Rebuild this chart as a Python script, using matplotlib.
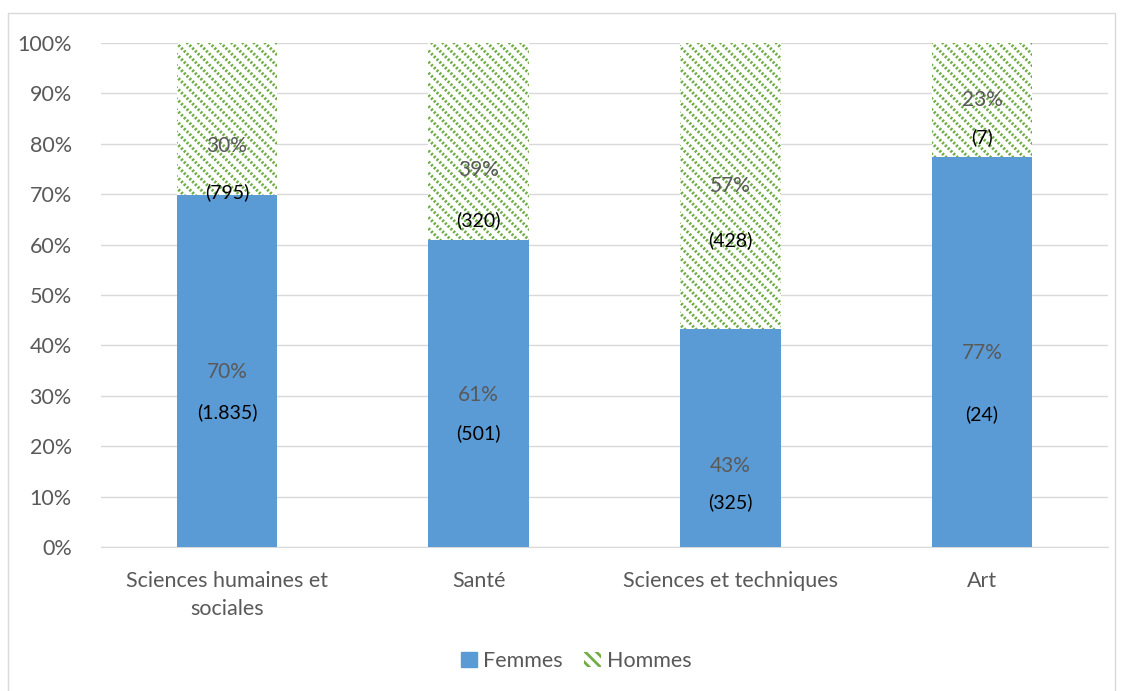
import matplotlib
matplotlib.use("Agg")
import matplotlib.pyplot as plt
from matplotlib.patches import Rectangle, Patch
from matplotlib.ticker import FuncFormatter

categories = ["Sciences humaines et\nsociales", "Santé", "Sciences et techniques", "Art"]
femmes_pct = [69.8, 61.0, 43.2, 77.4]
hommes_pct = [30.2, 39.0, 56.8, 22.6]
femmes_pct_labels = ["70%", "61%", "43%", "77%"]
hommes_pct_labels = ["30%", "39%", "57%", "23%"]
femmes_counts = ["(1.835)", "(501)", "(325)", "(24)"]
hommes_counts = ["(795)", "(320)", "(428)", "(7)"]

# label positions (data units)
f_pct_y = [34.7, 30.2, 16.1, 38.5]
f_cnt_y = [26.8, 22.6, 8.9, 26.4]
h_pct_y = [79.6, 74.8, 71.6, 88.7]
h_cnt_y = [70.4, 64.9, 60.9, 81.3]

plt.rcParams['font.family'] = ['Lato', 'DejaVu Sans']
BLUE = '#5B9BD5'
GREEN = '#70AD47'
GRAY = '#595959'
FS = 15.5

fig = plt.figure(figsize=(11.23, 6.91), dpi=100)
fig.patches.append(Rectangle((8/1123, -10/691), 1107/1123, 688/691, transform=fig.transFigure,
                             fill=False, edgecolor='#D9D9D9', linewidth=1))
ax = fig.add_axes([101/1123, 1 - 547/691, 1007/1123, 504/691])

x = list(range(len(categories)))
w = 0.4
ax.bar(x, femmes_pct, width=w, color=BLUE, zorder=3)
plt.rcParams['hatch.linewidth'] = 2.2
ax.bar(x, hommes_pct, width=w, bottom=femmes_pct, facecolor='white', edgecolor=GREEN,
       linewidth=0, hatch='\\\\\\', zorder=3)
plt.rcParams['hatch.linewidth'] = 1.3
ax.bar(x, hommes_pct, width=w, bottom=femmes_pct, facecolor='none', edgecolor='white',
       linewidth=0, hatch='//////', zorder=4)

for i in x:
    ax.text(i, f_pct_y[i], femmes_pct_labels[i], ha='center', va='center', fontsize=15, color=GRAY, zorder=5)
    ax.text(i, f_cnt_y[i], femmes_counts[i], ha='center', va='center', fontsize=14, color='black', zorder=5)
    ax.text(i, h_pct_y[i], hommes_pct_labels[i], ha='center', va='center', fontsize=15, color=GRAY, zorder=5)
    ax.text(i, h_cnt_y[i], hommes_counts[i], ha='center', va='center', fontsize=14, color='black', zorder=5)

ax.set_xlim(-0.5, 3.5)
ax.set_ylim(0, 100)
ax.set_yticks(range(0, 101, 10))
ax.yaxis.set_major_formatter(FuncFormatter(lambda v, p: f"{int(v)}%"))
ax.set_xticks(x)
ax.set_xticklabels(categories, fontsize=FS, color=GRAY, linespacing=1.5)
ax.tick_params(axis='y', labelsize=FS, labelcolor=GRAY, length=0, pad=21)
ax.tick_params(axis='x', length=0, pad=17)
ax.grid(axis='y', color='#D9D9D9', linewidth=1, zorder=0)
for s in ['top', 'right', 'left']:
    ax.spines[s].set_visible(False)
ax.spines['bottom'].set_color('#D9D9D9')

plt.rcParams['hatch.linewidth'] = 2.0
handles = [Patch(facecolor=BLUE, edgecolor=BLUE, label='Femmes'),
           Patch(facecolor='white', edgecolor=GREEN, hatch='\\\\\\', linewidth=0, label='Hommes')]
fig.legend(handles=handles, loc='center', bbox_to_anchor=(0.513, 1 - 661/691), ncol=2, frameon=False,
           fontsize=FS, labelcolor=GRAY, handlelength=0.75, handleheight=0.75, handletextpad=0.3,
           columnspacing=1.0)

fig.savefig('out.png', dpi=100)
